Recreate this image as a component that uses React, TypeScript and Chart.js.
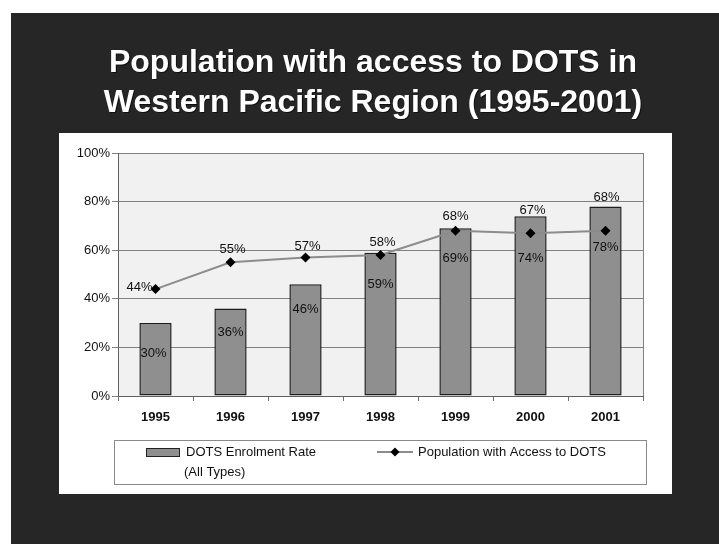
import React, { useEffect, useRef } from "react";
import { Chart, registerables } from "chart.js";

Chart.register(...registerables);

const categories = ["1995", "1996", "1997", "1998", "1999", "2000", "2001"];
const enrolmentRate = [30, 36, 46, 59, 69, 74, 78];
const populationAccess = [44, 55, 57, 58, 68, 67, 68];
const yTicks = [0, 20, 40, 60, 80, 100];
const titleLines = ["Population with access to DOTS in", "Western Pacific Region (1995-2001)"];
const barLegend = ["DOTS Enrolment Rate", "(All Types)"];
const lineLegend = "Population with Access to DOTS";

// label placement nudges (pixels), style only
const barLabelNudge = [[-2, 30], [0, 24], [0, 25], [0, 32], [0, 30], [0, 42], [0, 41]];
const lineLabelNudge = [[-16, -2], [2, -13], [2, -11], [2, -13], [0, -14], [2, -23], [1, -33]];

const FONT = '"Liberation Sans", Arial, Helvetica, sans-serif';

const decorPlugin = {
  id: "decor",
  beforeDraw(chart: any) {
    const ctx = chart.ctx;
    const a = chart.chartArea;
    ctx.save();
    ctx.fillStyle = "#ffffff";
    ctx.fillRect(0, 0, chart.width, chart.height);
    ctx.fillStyle = "#262626";
    ctx.fillRect(11, 13, chart.width - 11, chart.height - 13);
    ctx.fillStyle = "#ffffff";
    ctx.fillRect(59, 133, 613, 361);
    ctx.fillStyle = "#f1f1f1";
    ctx.fillRect(a.left, a.top, a.right - a.left, a.bottom - a.top);
    // title
    ctx.fillStyle = "#ffffff";
    ctx.font = `bold 32px ${FONT}`;
    ctx.textAlign = "center";
    ctx.textBaseline = "alphabetic";
    ctx.shadowColor = "rgba(0,0,0,0.6)";
    ctx.shadowOffsetX = 1;
    ctx.shadowOffsetY = 1;
    ctx.fillText(titleLines[0], 373, 72);
    ctx.fillText(titleLines[1], 373, 112);
    ctx.restore();
  },
  beforeDatasetsDraw(chart: any) {
    const ctx = chart.ctx;
    const a = chart.chartArea;
    ctx.save();
    ctx.strokeStyle = "#808080";
    ctx.lineWidth = 1;
    ctx.beginPath();
    ctx.moveTo(Math.round(a.right) + 0.5, a.top);
    ctx.lineTo(Math.round(a.right) + 0.5, a.bottom);
    ctx.stroke();
    ctx.restore();
  },
  afterDatasetsDraw(chart: any) {
    const ctx = chart.ctx;
    ctx.save();
    ctx.font = `13px ${FONT}`;
    ctx.fillStyle = "#111111";
    ctx.textAlign = "center";
    ctx.textBaseline = "middle";
    const barMeta = chart.getDatasetMeta(0);
    barMeta.data.forEach((el: any, i: number) => {
      const [dx, dy] = barLabelNudge[i];
      ctx.fillText(enrolmentRate[i] + "%", el.x + dx, el.y + dy);
    });
    const lineMeta = chart.getDatasetMeta(1);
    lineMeta.data.forEach((el: any, i: number) => {
      const [dx, dy] = lineLabelNudge[i];
      ctx.fillText(populationAccess[i] + "%", el.x + dx, el.y + dy);
    });

    // legend
    ctx.strokeStyle = "#8a8a8a";
    ctx.lineWidth = 1;
    ctx.strokeRect(114.5, 440.5, 532, 44);
    ctx.fillStyle = "#8f8f8f";
    ctx.fillRect(146, 448, 34, 9);
    ctx.strokeStyle = "#222222";
    ctx.strokeRect(146.5, 448.5, 33, 8);
    ctx.fillStyle = "#111111";
    ctx.textAlign = "left";
    ctx.fillText(barLegend[0], 186, 452);
    ctx.fillText(barLegend[1], 184, 472);
    ctx.strokeStyle = "#8c8c8c";
    ctx.lineWidth = 2;
    ctx.beginPath();
    ctx.moveTo(377, 452);
    ctx.lineTo(413, 452);
    ctx.stroke();
    ctx.fillStyle = "#000000";
    ctx.beginPath();
    ctx.moveTo(395, 447.5);
    ctx.lineTo(399.5, 452);
    ctx.lineTo(395, 456.5);
    ctx.lineTo(390.5, 452);
    ctx.closePath();
    ctx.fill();
    ctx.fillStyle = "#111111";
    ctx.fillText(lineLegend, 418, 452);
    ctx.restore();
  },
};

export default function App() {
  const ref = useRef<HTMLCanvasElement | null>(null);
  useEffect(() => {
    if (!ref.current) return;
    const chart = new Chart(ref.current, {
      type: "bar",
      data: {
        labels: categories,
        datasets: [
          {
            type: "bar",
            label: barLegend.join(" "),
            data: enrolmentRate,
            backgroundColor: "#8f8f8f",
            borderColor: "#1e1e1e",
            borderWidth: 1.5,
            borderSkipped: false,
            barPercentage: 0.86,
            categoryPercentage: 0.5,
            order: 1,
          },
          {
            type: "line",
            label: lineLegend,
            data: populationAccess,
            borderColor: "#8c8c8c",
            borderWidth: 2,
            pointStyle: "rectRot",
            pointRadius: 5,
            pointBackgroundColor: "#000000",
            pointBorderColor: "#000000",
            pointBorderWidth: 0,
            tension: 0,
            order: 0,
          } as any,
        ],
      },
      options: {
        responsive: false,
        animation: false,
        devicePixelRatio: 1,
        layout: { padding: { left: 58, top: 153, right: 76, bottom: 58 } },
        plugins: {
          legend: { display: false },
          title: { display: false },
          tooltip: { enabled: false },
        },
        scales: {
          x: {
            offset: true,
            grid: {
              offset: true,
              drawOnChartArea: false,
              drawTicks: true,
              tickLength: 5,
              color: "#707070",
            },
            border: { display: true, color: "#606060" },
            ticks: {
              color: "#111111",
              font: { family: FONT, size: 13, weight: "bold" },
              padding: 9,
              maxRotation: 0,
            },
            afterFit: (s: any) => {
              s.height = 90;
            },
          },
          y: {
            min: 0,
            max: 100,
            afterBuildTicks: (s: any) => {
              s.ticks = yTicks.map((v) => ({ value: v }));
            },
            grid: {
              color: "#808080",
              drawTicks: true,
              tickLength: 6,
            },
            border: { display: true, color: "#606060" },
            ticks: {
              color: "#111111",
              font: { family: FONT, size: 13 },
              padding: 2,
              callback: (v: any) => v + "%",
            },
            afterFit: (s: any) => {
              s.width = 60;
            },
          },
        },
      },
      plugins: [decorPlugin],
    });
    return () => chart.destroy();
  }, []);
  return (
    <div style={{ position: "fixed", left: 0, top: 0, width: 719, height: 544 }}>
      <canvas ref={ref} width={719} height={544} style={{ display: "block" }} />
    </div>
  );
}
